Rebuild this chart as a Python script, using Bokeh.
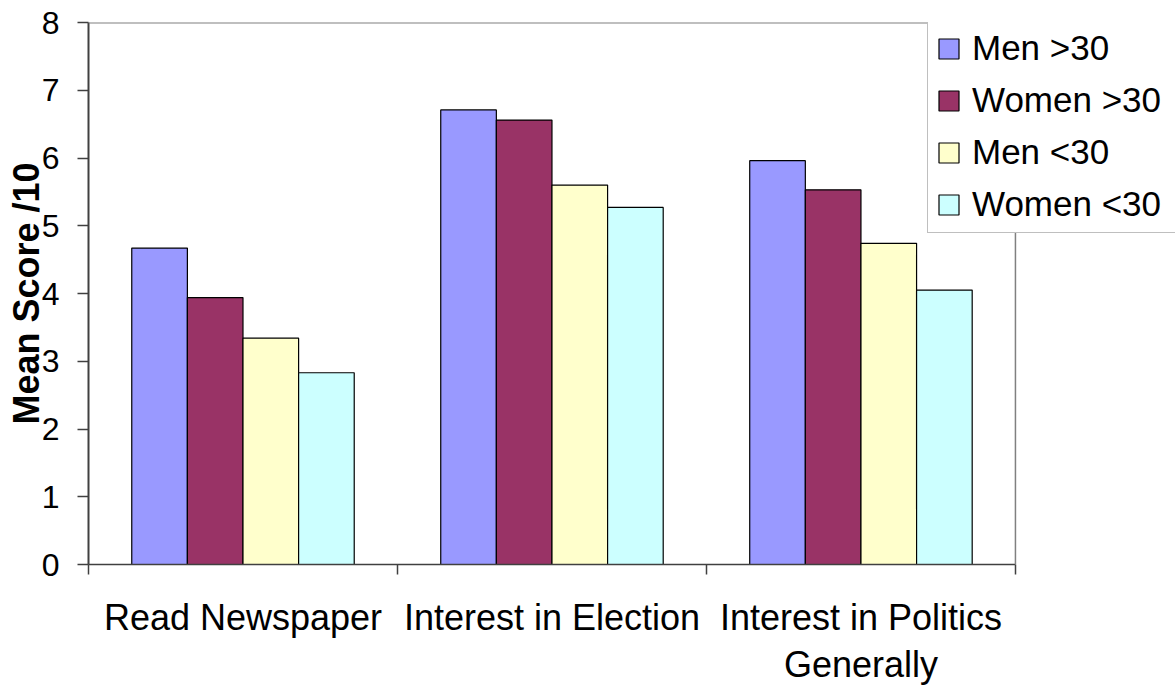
from bokeh.plotting import figure
from bokeh.models import (ColumnDataSource, Range1d, LinearAxis, Span,
                          FixedTicker, Legend, LegendItem)
from bokeh.transform import dodge
from bokeh.embed import file_html
from bokeh.resources import INLINE

# ---- data ----
categories = ["Read Newspaper", "Interest in Election", "Interest in Politics\nGenerally"]
series_names = ["Men >30", "Women >30", "Men <30", "Women <30"]
men_over30 = [4.67, 6.71, 5.96]
women_over30 = [3.94, 6.56, 5.53]
men_under30 = [3.34, 5.60, 4.74]
women_under30 = [2.83, 5.27, 4.05]
y_ticks = [0, 1, 2, 3, 4, 5, 6, 7, 8]
y_title = "Mean Score /10"

colors = ["#9999FF", "#993366", "#FFFFCC", "#CCFFFF"]
FONT = "Liberation Sans"

n = len(categories)
centers = [i + 0.5 for i in range(n)]
src = ColumnDataSource(data=dict(xc=centers, m_o=men_over30, w_o=women_over30,
                                 m_u=men_under30, w_u=women_under30))

# frame extends to the right canvas edge so that the legend may overhang the plot area
p = figure(width=1175, height=687,
           x_range=Range1d(0, n + 0.518), y_range=Range1d(0, 8),
           output_backend="svg", toolbar_location=None,
           x_axis_location=None, y_axis_location=None,
           min_border_left=88, min_border_right=0,
           min_border_top=22, min_border_bottom=121)
p.grid.visible = False
p.outline_line_color = None
p.background_fill_color = "white"
p.border_fill_color = "white"

# plot-area border (top and right)
p.add_layout(Span(location=8, dimension="width", line_color="#808080", line_width=2))
p.add_layout(Span(location=n, dimension="height", line_color="#808080", line_width=1.5))

yaxis = LinearAxis(ticker=FixedTicker(ticks=y_ticks))
yaxis.major_tick_out = 11
yaxis.major_tick_in = 0
yaxis.minor_tick_line_color = None
yaxis.axis_line_color = "#404040"
yaxis.axis_line_width = 2
yaxis.major_tick_line_color = "#404040"
yaxis.major_tick_line_width = 1.5
yaxis.major_label_text_font = FONT
yaxis.major_label_text_font_size = "32px"
yaxis.major_label_text_color = "black"
yaxis.major_label_standoff = 18
yaxis.axis_label = y_title
yaxis.axis_label_text_font = FONT
yaxis.axis_label_text_font_style = "bold"
yaxis.axis_label_text_font_size = "36px"
yaxis.axis_label_text_color = "black"
yaxis.axis_label_standoff = -8
p.add_layout(yaxis, "left")

# category labels at centres, boundary ticks as minor ticks
cat_axis = LinearAxis(ticker=FixedTicker(ticks=centers, minor_ticks=list(range(n + 1))),
                      major_label_overrides={c: lab for c, lab in zip(centers, categories)})
cat_axis.bounds = (0, n)
cat_axis.axis_line_color = "#404040"
cat_axis.axis_line_width = 1.5
cat_axis.major_tick_line_color = None
cat_axis.major_tick_out = 10
cat_axis.major_tick_in = 0
cat_axis.minor_tick_line_color = "#404040"
cat_axis.minor_tick_line_width = 1.5
cat_axis.minor_tick_out = 10
cat_axis.minor_tick_in = 0
cat_axis.major_label_text_font = FONT
cat_axis.major_label_text_font_size = "36px"
cat_axis.major_label_text_color = "black"
cat_axis.major_label_text_line_height = 1.15
cat_axis.major_label_standoff = 22
p.add_layout(cat_axis, "below")

offsets = [-0.27, -0.09, 0.09, 0.27]
cols = ["m_o", "w_o", "m_u", "w_u"]
items = []
for name, col, off, c in zip(series_names, cols, offsets, colors):
    r = p.vbar(x=dodge("xc", off), top=col, width=0.18, bottom=0,
               source=src, fill_color=c, line_color="black", line_width=1.2)
    items.append(LegendItem(label=name, renderers=[r]))

legend = Legend(items=items, location=(839, 331))
legend.label_text_font = FONT
legend.label_text_font_size = "35px"
legend.label_text_color = "black"
legend.glyph_width = 25
legend.glyph_height = 25
legend.label_height = 40
legend.label_width = 215
legend.label_standoff = 11
legend.spacing = 12
legend.padding = 8
legend.margin = 0
legend.border_line_color = "#808080"
legend.border_line_width = 1.5
legend.background_fill_color = "white"
legend.background_fill_alpha = 1
p.add_layout(legend, "center")

open("out.html", "w").write(file_html(p, INLINE))
